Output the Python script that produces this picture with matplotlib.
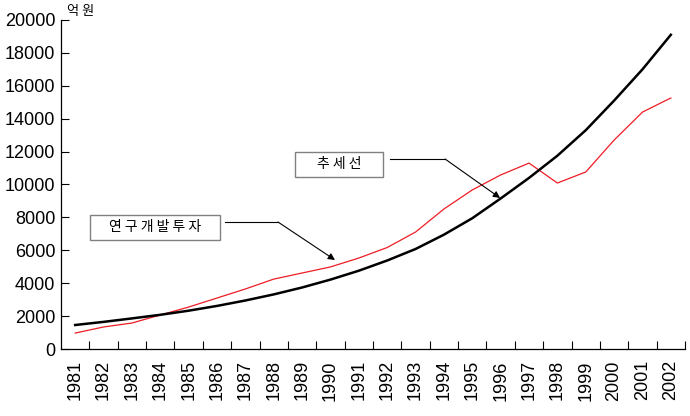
import matplotlib.pyplot as plt
from matplotlib.patches import Rectangle
import numpy as np

plt.rcParams['font.family'] = ['Liberation Sans', 'Noto Sans CJK KR', 'DejaVu Sans']

years = [str(y) for y in range(1981, 2003)]
rnd_invest = [970, 1340, 1580, 2070, 2550, 3100, 3650, 4250, 4620, 4990, 5530,
              6170, 7110, 8510, 9670, 10580, 11300, 10090, 10760, 12700, 14400, 15260]
trend = [1460, 1650, 1860, 2080, 2330, 2620, 2950, 3320, 3740, 4220, 4760,
         5380, 6080, 6950, 7950, 9150, 10400, 11750, 13300, 15100, 17000, 19100]
yticks = list(range(0, 20001, 2000))

fig = plt.figure(figsize=(6.9, 4.16), dpi=100)
ax = fig.add_axes([0.0884, 0.161, 0.9044, 0.791])

x = np.arange(len(years))
ax.plot(x, trend, color='black', lw=1.8, zorder=3)
ax.plot(x, rnd_invest, color='#ee1c24', lw=0.9, zorder=2)

ax.set_xlim(-0.5, len(years) - 0.5)
ax.set_ylim(0, 20000)
ax.set_yticks(yticks)
ax.set_yticklabels([str(v) for v in yticks], fontsize=13)
ax.set_xticks(x)
ax.set_xticklabels(years, rotation=90, fontsize=13)
ax.set_xticks(x + 0.5, minor=True)
ax.tick_params(axis='x', which='major', length=0, pad=8)
ax.tick_params(axis='x', which='minor', direction='in', length=6, width=0.8)
ax.tick_params(axis='y', direction='in', length=6, width=0.8, pad=4)
for s in ('top', 'right'):
    ax.spines[s].set_visible(False)
for s in ('left', 'bottom'):
    ax.spines[s].set_linewidth(0.9)

ax.text(0.01, 1.005, '억 원', transform=ax.transAxes, fontsize=9.5,
        family=['Noto Sans CJK KR'], va='bottom', ha='left')

# label boxes
ax.add_patch(Rectangle((0.52, 6630), 4.59, 1520, fc='white', ec='#808080',
                       lw=1, zorder=4))
ax.text(2.81, 7390, '연 구 개 발 투 자', fontsize=10, family=['Noto Sans CJK KR'],
        ha='center', va='center', zorder=5)
ax.add_patch(Rectangle((7.75, 10460), 3.10, 1520, fc='white', ec='#808080',
                       lw=1, zorder=4))
ax.text(9.3, 11220, '추 세 선', fontsize=10, family=['Noto Sans CJK KR'],
        ha='center', va='center', zorder=5)

arrow = dict(arrowstyle='-|>', color='black', lw=0.8, mutation_scale=10,
             shrinkA=0, shrinkB=0)
ax.plot([5.28, 7.15], [7720, 7720], color='black', lw=0.8)
ax.annotate('', xy=(9.16, 5410), xytext=(7.15, 7720), arrowprops=arrow)
ax.plot([11.1, 13.04], [11550, 11550], color='black', lw=0.8)
ax.annotate('', xy=(14.98, 9180), xytext=(13.04, 11550), arrowprops=arrow)

fig.savefig('out.png', dpi=100)
